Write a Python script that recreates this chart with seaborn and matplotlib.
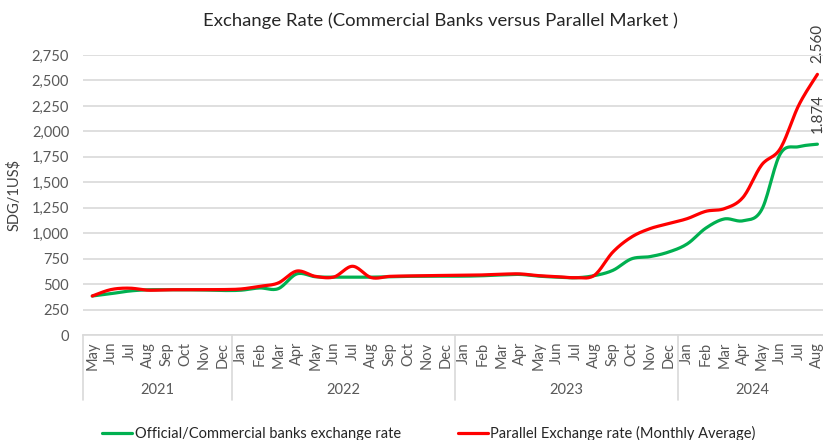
import numpy as np
import pandas as pd
import matplotlib.pyplot as plt
import matplotlib.transforms as mtransforms
from matplotlib.lines import Line2D
import seaborn as sns

# --- Data ---
years = ["2021", "2022", "2023", "2024"]
months_2021 = ["May", "Jun", "Jul", "Aug", "Sep", "Oct", "Nov", "Dec"]
months_full = ["Jan", "Feb", "Mar", "Apr", "May", "Jun", "Jul", "Aug", "Sep", "Oct", "Nov", "Dec"]
months_2024 = ["Jan", "Feb", "Mar", "Apr", "May", "Jun", "Jul", "Aug"]
month_labels = months_2021 + months_full + months_full + months_2024
months_per_year = [len(months_2021), 12, 12, len(months_2024)]

official_rate = [383, 406, 432, 444, 444, 444, 442, 437,
                 440, 462, 455, 600, 572, 568, 568, 568, 572, 576, 577, 578,
                 578, 582, 590, 595, 578, 568, 562, 583, 635, 748, 770, 815,
                 895, 1050, 1140, 1122, 1230, 1778, 1850, 1874]
parallel_rate = [383, 446, 460, 440, 444, 445, 446, 446,
                 452, 478, 511, 628, 576, 570, 675, 564, 576, 580, 583, 585,
                 586, 590, 597, 600, 583, 573, 563, 586, 815, 962, 1045, 1094,
                 1143, 1215, 1241, 1352, 1670, 1830, 2258, 2560]

official_name = "Official/Commercial banks exchange rate"
parallel_name = "Parallel Exchange rate (Monthly Average)"
last_labels = ["1.874", "2.560"]

GREEN = "#00B050"
RED = "#FF0000"
TEXT = "#595959"
GRID = "#D9D9D9"


def smooth(values, steps=16):
    # Excel-style smoothed line (Catmull-Rom bezier between points)
    y = np.asarray(values, dtype=float)
    x = np.arange(len(y), dtype=float)
    xs, ys = [], []
    for i in range(len(y) - 1):
        p0 = max(i - 1, 0)
        p3 = min(i + 2, len(y) - 1)
        c1x = x[i] + (x[i + 1] - x[p0]) / 6
        c1y = y[i] + (y[i + 1] - y[p0]) / 6
        c2x = x[i + 1] - (x[p3] - x[i]) / 6
        c2y = y[i + 1] - (y[p3] - y[i]) / 6
        t = np.linspace(0, 1, steps, endpoint=False)
        b0, b1, b2, b3 = (1 - t) ** 3, 3 * t * (1 - t) ** 2, 3 * t ** 2 * (1 - t), t ** 3
        xs.extend(b0 * x[i] + b1 * c1x + b2 * c2x + b3 * x[i + 1])
        ys.extend(b0 * y[i] + b1 * c1y + b2 * c2y + b3 * y[i + 1])
    xs.append(x[-1])
    ys.append(y[-1])
    return np.array(xs), np.array(ys)


frames = []
for name, vals in [(official_name, official_rate), (parallel_name, parallel_rate)]:
    sx, sy = smooth(vals)
    frames.append(pd.DataFrame({"x": sx, "rate": sy, "series": name}))
df = pd.concat(frames, ignore_index=True)

sns.set_theme(style="white")
plt.rcParams["font.family"] = ["Lato", "DejaVu Sans"]

fig = plt.figure(figsize=(8.23, 4.4), dpi=100)
ax = fig.add_axes([83 / 823, 105 / 440, 743.7 / 823, 280 / 440])

sns.lineplot(data=df, x="x", y="rate", hue="series", sort=False,
             palette={official_name: GREEN, parallel_name: RED},
             linewidth=2.3, ax=ax, legend=False)

n = len(month_labels)
ax.set_xlim(-0.5, n - 0.5)
ax.set_ylim(0, 2750)
ax.set_yticks(np.arange(0, 2751, 250))
ax.set_yticklabels([f"{v:,}" for v in range(0, 2751, 250)], fontsize=10.5, color=TEXT)
ax.set_xticks(np.arange(n))
ax.set_xticklabels(month_labels, rotation=90, fontsize=10.5, color=TEXT, va="top")
ax.tick_params(axis="x", length=0, pad=5)
ax.tick_params(axis="y", length=0, pad=10)
ax.grid(axis="y", color=GRID, linewidth=1.2)
ax.set_axisbelow(True)
for s in ["top", "right", "left"]:
    ax.spines[s].set_visible(False)
ax.spines["bottom"].set_color(GRID)
ax.spines["bottom"].set_linewidth(1.2)
ax.set_xlabel("")
ax.set_ylabel("SDG/1US$", fontsize=10.5, color="#404040", labelpad=8)

# year groups under the month labels
trans = mtransforms.blended_transform_factory(ax.transData, ax.transAxes)
start = 0
bounds = [-0.5]
for yr, cnt in zip(years, months_per_year):
    mid = start + (cnt - 1) / 2
    ax.text(mid, -0.196, yr, transform=trans, ha="center", va="center",
            fontsize=10.5, color=TEXT)
    start += cnt
    bounds.append(start - 0.5)
for b in bounds:
    ax.add_line(Line2D([b, b], [0, -0.232], transform=trans, color=GRID,
                       linewidth=1.2, clip_on=False))

# value labels at last points
ax.text(n - 1, official_rate[-1] + 110, last_labels[0], rotation=90,
        ha="center", va="bottom", fontsize=11, color="#404040")
ax.text(n - 1, parallel_rate[-1] + 110, last_labels[1], rotation=90,
        ha="center", va="bottom", fontsize=11, color="#404040")

fig.text(0.535, 0.953, "Exchange Rate (Commercial Banks versus Parallel Market )",
         ha="center", va="center", fontsize=13.3, color="#262626")

handles = [Line2D([], [], color=GREEN, linewidth=2.3),
           Line2D([], [], color=RED, linewidth=2.3)]
fig.legend(handles, [official_name, parallel_name], loc="center",
           bbox_to_anchor=(0.521, 0.014), ncol=2, frameon=False,
           fontsize=10.5, handlelength=2.1, handletextpad=0.15,
           columnspacing=3.9, labelcolor="#262626")

fig.savefig("out.png", dpi=100)
